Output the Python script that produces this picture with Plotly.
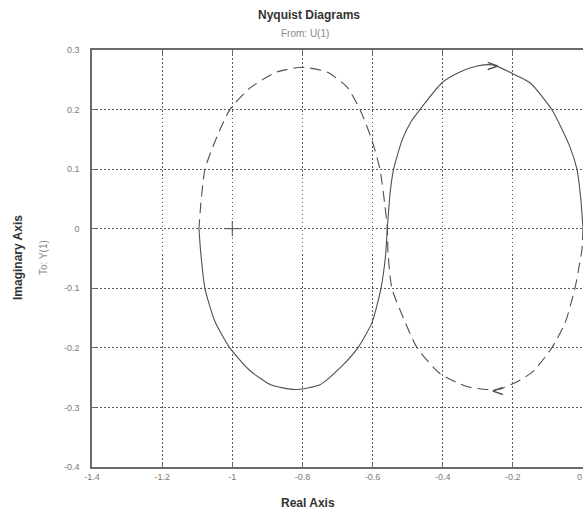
import plotly.graph_objects as go

# Nyquist response, positive frequencies (solid)
re_pos = [-1.095, -1.090, -1.078, -1.050, -1.007, -0.950, -0.890, -0.821, -0.750,
          -0.690, -0.642, -0.602, -0.576, -0.563, -0.558, -0.550, -0.540, -0.515,
          -0.490, -0.465, -0.402, -0.351, -0.302, -0.257, -0.203, -0.151, -0.089,
          -0.037, -0.017, -0.006, 0.0]
im_pos = [0.0, -0.040, -0.100, -0.155, -0.200, -0.238, -0.262, -0.270, -0.262,
          -0.232, -0.200, -0.158, -0.100, -0.045, 0.0, 0.060, 0.100, 0.150,
          0.180, 0.200, 0.245, 0.263, 0.273, 0.275, 0.261, 0.245, 0.200,
          0.137, 0.099, 0.048, 0.0]

# Nyquist response, negative frequencies (dashed)
re_neg = [0.0, -0.003, -0.010, -0.023, -0.051, -0.089, -0.143, -0.188, -0.243,
          -0.274, -0.331, -0.408, -0.473, -0.512, -0.545, -0.556, -0.558, -0.565,
          -0.579, -0.602, -0.636, -0.673, -0.730, -0.800, -0.873, -0.950, -1.007,
          -1.044, -1.078, -1.090, -1.095]
im_neg = [0.0, -0.035, -0.060, -0.100, -0.158, -0.200, -0.240, -0.257, -0.270,
          -0.270, -0.265, -0.243, -0.200, -0.150, -0.100, -0.040, 0.0, 0.040,
          0.100, 0.149, 0.200, 0.238, 0.263, 0.271, 0.263, 0.236, 0.200,
          0.154, 0.100, 0.040, 0.0]

# Critical point and direction arrows
crit_re, crit_im = [-1.0], [0.0]
arrow_pos = (-0.258, 0.274)
arrow_neg = (-0.243, -0.271)

x_ticks = [-1.4, -1.2, -1.0, -0.8, -0.6, -0.4, -0.2, 0.0]
x_labels = ["-1.4", "-1.2", "-1", "-0.8", "-0.6", "-0.4", "-0.2", "0"]
y_ticks = [0.3, 0.2, 0.1, 0.0, -0.1, -0.2, -0.3, -0.4]
y_labels = ["0.3", "0.2", "0.1", "0", "-0.1", "-0.2", "-0.3", "-0.4"]

curve_color = "#505050"
grid_color = "#5a5a5a"
axis_color = "#6a6a6a"
label_gray = "#7a7a7a"
tick_font = dict(family="Liberation Sans, Arial, sans-serif", size=9, color=label_gray)

fig = go.Figure()
fig.add_trace(go.Scatter(x=re_pos, y=im_pos, mode="lines",
                         line=dict(color=curve_color, width=1.1, shape="spline",
                                   smoothing=0.6),
                         hoverinfo="skip"))
fig.add_trace(go.Scatter(x=re_neg, y=im_neg, mode="lines",
                         line=dict(color=curve_color, width=1.1, dash="11px,6px",
                                   shape="spline", smoothing=0.6),
                         hoverinfo="skip"))
fig.add_trace(go.Scatter(x=crit_re, y=crit_im, mode="markers",
                         marker=dict(symbol="cross-thin", size=11,
                                     line=dict(color=curve_color, width=1)),
                         hoverinfo="skip"))

for (ax_, ay_), glyph in ((arrow_pos, ">"), (arrow_neg, "<")):
    fig.add_annotation(x=ax_, y=ay_, xref="x", yref="y", text=glyph, showarrow=False,
                       font=dict(family="DejaVu Sans, sans-serif", size=16, color=curve_color),
                       xanchor="center", yanchor="middle")

# the last x tick label is drawn separately so it stays inside the page
fig.update_xaxes(range=[-1.4, 0.0], tickvals=x_ticks, ticktext=x_labels[:-1] + [""],
                 showgrid=True, gridcolor=grid_color, griddash="1.5px,2.5px", gridwidth=1,
                 showline=True, linecolor=axis_color, linewidth=1.5, mirror="ticks",
                 ticks="inside", ticklen=4, tickcolor=axis_color,
                 tickfont=tick_font, zeroline=False, fixedrange=True)
fig.update_yaxes(range=[-0.4, 0.3], tickvals=y_ticks, ticktext=y_labels,
                 showgrid=True, gridcolor=grid_color, griddash="1.5px,2.5px", gridwidth=1,
                 showline=True, linecolor=axis_color, linewidth=1.5, mirror=False,
                 ticks="inside", ticklen=4, tickcolor=axis_color,
                 ticklabelstandoff=9,
                 tickfont=tick_font, zeroline=False, fixedrange=True)

label_font = dict(family="Liberation Sans, Arial, sans-serif", size=12, color="#333333")
small_font = dict(family="Liberation Sans, Arial, sans-serif", size=10, color="#8a8a8a")


def paper_x(px):
    return (px - 92) / 491.0


def paper_y(py):
    return (467 - py) / 417.0


fig.add_annotation(text="<b>Nyquist Diagrams</b>", x=paper_x(309), y=paper_y(15),
                   xref="paper", yref="paper", showarrow=False, font=label_font,
                   xanchor="center", yanchor="middle")
fig.add_annotation(text="From: U(1)", x=paper_x(305), y=paper_y(33),
                   xref="paper", yref="paper", showarrow=False, font=small_font,
                   xanchor="center", yanchor="middle")
fig.add_annotation(text="<b>Real Axis</b>", x=paper_x(308), y=paper_y(503),
                   xref="paper", yref="paper", showarrow=False, font=label_font,
                   xanchor="center", yanchor="middle")
fig.add_annotation(text="<b>Imaginary Axis</b>", x=paper_x(18), y=paper_y(258),
                   xref="paper", yref="paper", showarrow=False, font=label_font,
                   textangle=-90, xanchor="center", yanchor="middle")
fig.add_annotation(text="To: Y(1)", x=paper_x(43), y=paper_y(258),
                   xref="paper", yref="paper", showarrow=False, font=small_font,
                   textangle=-90, xanchor="center", yanchor="middle")
fig.add_annotation(text=x_labels[-1], x=x_ticks[-1], xref="x", y=paper_y(477),
                   yref="paper", showarrow=False, font=tick_font,
                   xanchor="right", yanchor="middle", xshift=1)

fig.update_layout(width=584, height=516, showlegend=False,
                  margin=dict(l=92, r=1, t=50, b=49),
                  paper_bgcolor="white", plot_bgcolor="white")

fig.write_html("out.html", config={"displayModeBar": False})
